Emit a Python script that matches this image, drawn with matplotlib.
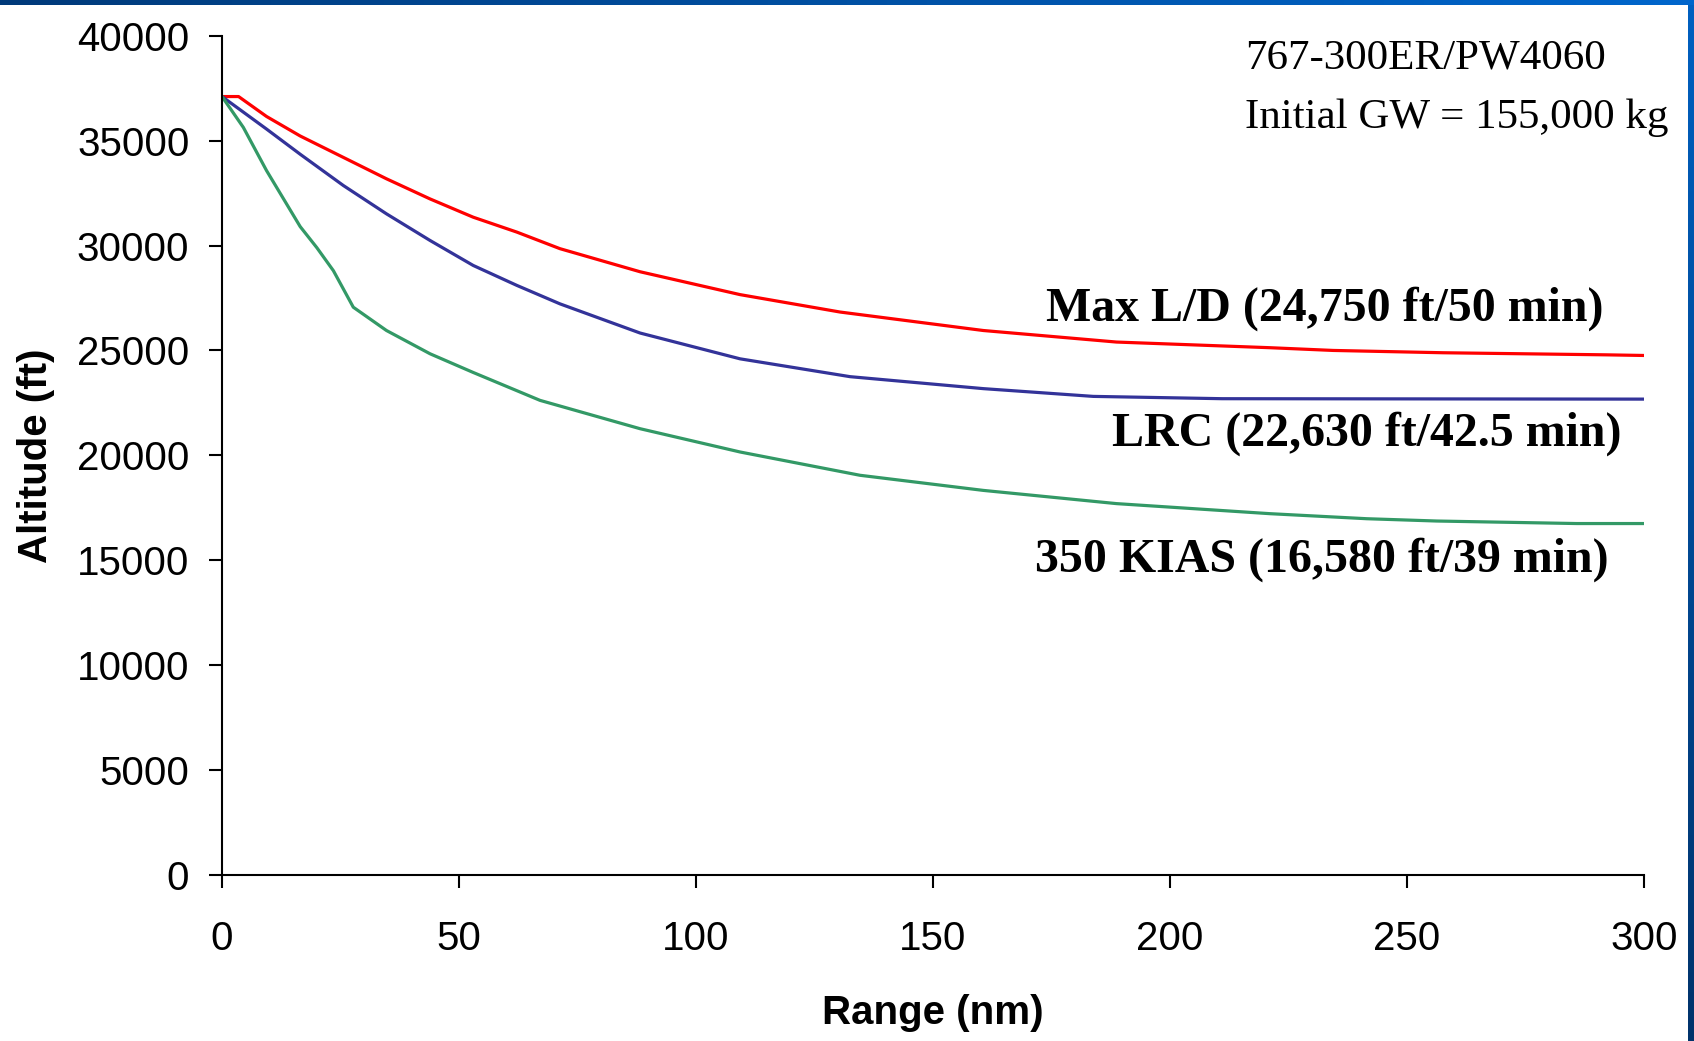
import numpy as np
import matplotlib
matplotlib.use("Agg")
import matplotlib.pyplot as plt
from matplotlib.colors import LinearSegmentedColormap

# ---- data ----
maxld_x = [0, 3.5, 9.4, 16.5, 25.6, 34.7, 43.9, 53.0, 62.2, 71.3, 88.2, 109.3, 130.4,
           160.6, 188.7, 221.1, 234.4, 257.6, 292.1, 300]
maxld_y = [37100, 37100, 36150, 35220, 34200, 33180, 32220, 31350, 30640, 29850, 28750,
           27660, 26830, 25950, 25400, 25130, 25000, 24890, 24790, 24760]

lrc_x = [0, 9.4, 16.5, 25.6, 34.7, 43.9, 53.0, 62.2, 71.3, 88.2, 109.3, 132.5, 160.6,
         183.8, 211.0, 300]
lrc_y = [37100, 35550, 34350, 32860, 31510, 30240, 29050, 28100, 27220, 25830, 24600,
         23750, 23180, 22810, 22700, 22680]

kias_x = [0, 4.5, 9.4, 16.5, 20.0, 23.5, 27.7, 34.7, 43.9, 53.0, 67.1, 88.2, 109.3,
          134.6, 160.6, 188.7, 221.1, 241.5, 256.3, 285.8, 300]
kias_y = [37100, 35630, 33570, 30900, 29900, 28800, 27060, 25950, 24840, 23950, 22620,
          21270, 20160, 19050, 18330, 17700, 17220, 16980, 16870, 16750, 16750]

series_labels = ["Max L/D (24,750 ft/50 min)", "LRC (22,630 ft/42.5 min)",
                 "350 KIAS (16,580 ft/39 min)"]
header_lines = ["767-300ER/PW4060", "Initial GW = 155,000 kg"]

W, H = 1694, 1041
fig = plt.figure(figsize=(W / 100, H / 100), dpi=100)
fig.patch.set_facecolor("white")

# plot area
ax = fig.add_axes([222 / W, 1 - 875 / H, 1422 / W, 839.3 / H])
ax.plot(maxld_x, maxld_y, color="#ff0000", lw=2.3)
ax.plot(lrc_x, lrc_y, color="#333399", lw=2.3)
ax.plot(kias_x, kias_y, color="#339966", lw=2.3)

ax.set_xlim(0, 300)
ax.set_ylim(0, 40000)
ax.set_xticks(np.arange(0, 301, 50))
ax.set_yticks(np.arange(0, 40001, 5000))
for s in ["top", "right"]:
    ax.spines[s].set_visible(False)
for s in ["left", "bottom"]:
    ax.spines[s].set_linewidth(1.5)
ax.tick_params(axis="both", direction="out", length=9.5, width=1.5,
               labelsize=29)
ax.tick_params(axis="y", pad=14)
ax.tick_params(axis="x", pad=23)
for lbl in ax.get_xticklabels() + ax.get_yticklabels():
    lbl.set_family("Liberation Sans")

ax.set_xlabel("Range (nm)", fontsize=29, fontweight="bold", family="Liberation Sans")
ax.set_ylabel("Altitude (ft)", fontsize=29, fontweight="bold", family="Liberation Sans",
              va="center")
ax.xaxis.set_label_coords(0.5, -0.142)
ax.yaxis.set_label_coords(-0.131, 0.5)

# curve labels
label_pos = [(291.4, 26430), (295.3, 20480), (292.5, 14440)]
for txt, (lx, ly) in zip(series_labels, label_pos):
    ax.text(lx, ly, txt, ha="right", va="baseline", fontsize=34.5, fontweight="bold",
            family="Liberation Serif")

# header text
ax.text(215.8, 38430, header_lines[0], ha="left", va="baseline", fontsize=31,
        family="Liberation Serif", clip_on=False)
ax.text(215.8, 35620, header_lines[1], ha="left", va="baseline", fontsize=31,
        family="Liberation Serif", clip_on=False)

# slide border stripes
top = fig.add_axes([0, 1 - 5 / H, 1, 5 / H])
top.imshow(np.linspace(0, 1, 256)[None, :], aspect="auto",
           cmap=LinearSegmentedColormap.from_list("t", ["#003a7a", "#0066cc"]))
top.axis("off")
right = fig.add_axes([1 - 6 / W, 0, 6 / W, 1 - 5 / H])
right.imshow(np.linspace(0, 1, 256)[:, None], aspect="auto",
             cmap=LinearSegmentedColormap.from_list("r", ["#0060c0", "#00336b"]))
right.axis("off")

fig.savefig("out.png", dpi=100)
